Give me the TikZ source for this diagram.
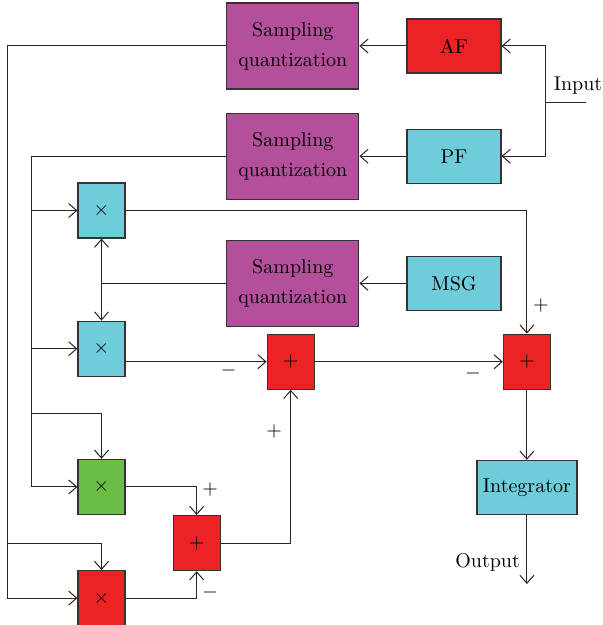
\documentclass[tikz,border=0pt]{standalone}
\usetikzlibrary{positioning,arrows.meta,calc}

\definecolor{sqpurple}{RGB}{180,80,155}
\definecolor{boxred}{RGB}{237,34,36}
\definecolor{boxcyan}{RGB}{111,204,218}
\definecolor{boxgreen}{RGB}{107,189,69}

\begin{document}
\begin{tikzpicture}[x=1pt, y=-1pt,
every node/.style={font=\fontsize{10}{15}\selectfont},
block/.style={rectangle, draw=black!80, line width=0.6pt, inner sep=0pt, align=center},
sampler/.style={block, fill=sqpurple, minimum width=66pt, minimum height=43pt},
filter/.style={block, minimum width=47pt, minimum height=27pt},
opbox/.style={block, minimum width=23.5pt, minimum height=27.5pt},
sign/.style={inner sep=0pt},
wire/.style={line width=0.5pt, draw=black!85},
arr/.style={wire, -{Straight Barb[length=4pt,width=7pt]}},
darr/.style={wire, {Straight Barb[length=4pt,width=7pt]}-{Straight Barb[length=4pt,width=7pt]}}
]
\useasboundingbox (0,0) rectangle (301.5,312.5);

% filters and samplers
\node [filter, fill=boxred] (af) at (227,23) {AF};
\node [sampler] (sq1) [left=23.5pt of af] {Sampling\\quantization};
\node [filter, fill=boxcyan] (pf) [below=27.5pt of af] {PF};
\node [sampler] (sq2) [left=23.5pt of pf] {Sampling\\quantization};
\node [filter, fill=boxcyan] (msg) [below=36pt of pf] {MSG};
\node [sampler] (sq3) [left=23.5pt of msg] {Sampling\\quantization};

% multipliers
\node [opbox, fill=boxcyan] (mul1) at (50.75,105.25) {$\times$};
\node [opbox, fill=boxcyan] (mul2) [below=41pt of mul1] {$\times$};
\node [opbox, fill=boxgreen] (mul3) [below=41pt of mul2] {$\times$};
\node [opbox, fill=boxred] (mul4) [below=27.5pt of mul3] {$\times$};

% adders
\node [opbox, fill=boxred] (add1) [right=70.5pt of mul2, yshift=-6.5pt] {$+$};
\node [opbox, fill=boxred] (add3) [right=94pt of add1] {$+$};
\node [opbox, fill=boxred] (add2) [below right=0pt and 23.5pt of mul3] {$+$};
\node [filter, fill=boxcyan, minimum width=50pt] (integ) [below=35pt of add3] {Integrator};

\node [coordinate, below=34.5pt of integ] (out) {};
\node (outlabel) [above left=3pt and 0pt of out] {Output};
\coordinate (in) at (293,51.5);
\node [coordinate, right=22pt of af] (junc) {};
\node (inlabel) [above=1pt of in, xshift=-4pt] {Input};
\coordinate (bus1) at (3.5,0);
\coordinate (bus2) at (15.5,0);

% signs
\node [sign] (s1) at ($(add3.north)+(7,-14)$) {$+$};
\node [sign] (s2) at ($(add1.west)+(-19,4.25)$) {$-$};
\node [sign] (s3) at ($(add3.west)+(-15,5.75)$) {$-$};
\node [sign] (s4) at ($(add1.south)+(-8.25,21)$) {$+$};
\node [sign] (s5) at ($(add2.north)+(6.75,-13)$) {$+$};
\node [sign] (s6) at ($(add2.south)+(6.75,10.5)$) {$-$};

\draw [arr] (in) -- (in -| junc) |- (af);
\draw [arr] (in -| junc) |- (pf);
\draw [arr] (af.west) -- (af.west -| sq1.east);
\draw [arr] (pf.west) -- (pf.west -| sq2.east);
\draw [arr] (msg.west) -- (msg.west -| sq3.east);

\draw [arr] (sq1) -- (sq1 -| bus1) |- (mul4);
\draw [arr] (bus1 |- add2) -| (mul4);
\draw [arr] (sq2) -- (sq2 -| bus2) |- (mul3);
\draw [arr] (bus2 |- mul1) -- (mul1);
\draw [arr] (bus2 |- mul2) -- (mul2);
\draw [arr] (bus2 |- mul3.north) ++(0,-22.5) -| (mul3);
\draw [wire] (sq3) -- (sq3 -| mul1);
\draw [darr] (mul1) -- (mul2);

\draw [arr] (mul1) -| (add3);
\draw [arr] (mul2.east |- add1) -- (add1);
\draw [arr] (add1) -- (add3);
\draw [arr] (mul3) -| (add2);
\draw [arr] (mul4) -| (add2);
\draw [arr] (add2) -| (add1);
\draw [arr] (add3) -- (add3 |- integ.north);
\draw [arr] (integ) -- (out);

\end{tikzpicture}
\end{document}
